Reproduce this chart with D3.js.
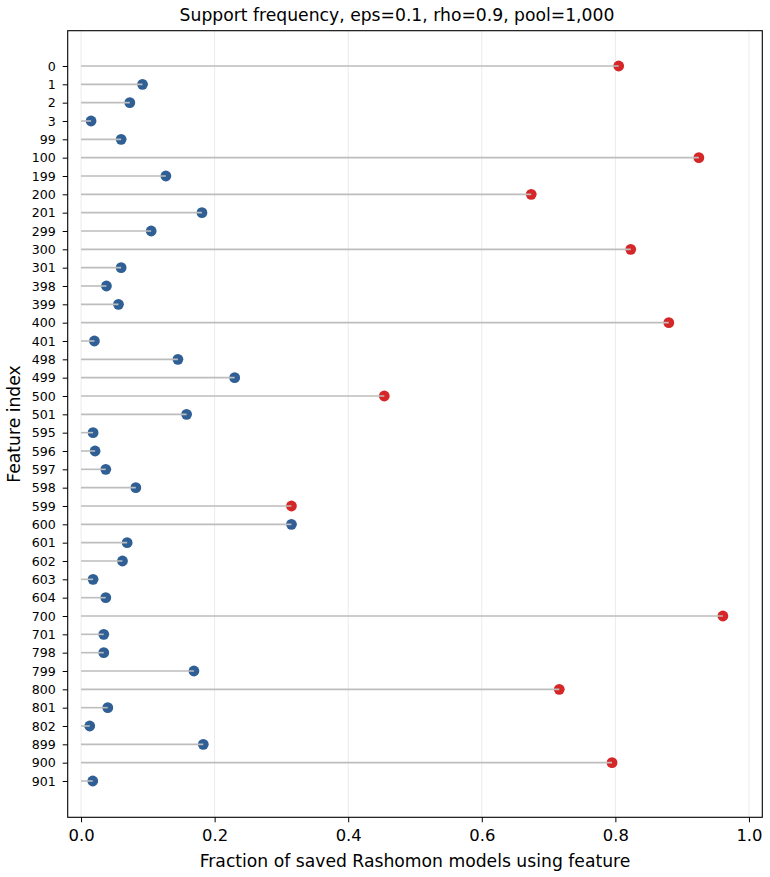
<!DOCTYPE html>
<html>
<head>
<meta charset="utf-8">
<script src="https://cdn.jsdelivr.net/npm/d3@7"></script>
<style>
  body { margin: 0; background: #fff; }
  text { font-family: "DejaVu Sans", sans-serif; fill: #000; }
</style>
</head>
<body>
<div class="canvas"></div>
<script>
// feature ids in plot order, top to bottom
const features = ["0","1","2","3","99","100","199","200","201","299","300","301","398","399","400","401",
  "498","499","500","501","595","596","597","598","599","600","601","602","603","604",
  "700","701","798","799","800","801","802","899","900","901"];
const support = [0.805,0.092,0.073,0.015,0.060,0.925,0.127,0.674,0.181,0.105,0.823,0.060,0.038,0.056,0.880,0.020,
  0.145,0.230,0.454,0.158,0.018,0.021,0.037,0.082,0.315,0.315,0.069,0.062,0.018,0.037,
  0.961,0.034,0.034,0.169,0.716,0.040,0.013,0.183,0.795,0.0175];
// true support features are highlighted
const trueSupport = ["0","100","200","300","400","500","599","700","800","900"];
const xTicks = [0, 0.2, 0.4, 0.6, 0.8, 1.0];

const dims = {width: 770, height: 877};
const margin = {left: 67.7, top: 30.7, right: 7.7, bottom: 59.7};
const w = dims.width - margin.left - margin.right;
const h = dims.height - margin.top - margin.bottom;

const svg = d3.select(".canvas").append("svg")
  .attr("width", dims.width)
  .attr("height", dims.height);

const graph = svg.append("g").attr("transform", `translate(${margin.left}, ${margin.top})`);

const x = d3.scaleLinear().domain([-0.02, 1.02]).range([0, w]);
const y = d3.scaleLinear().domain([-1.925, 40.98]).range([0, h]);

const data = features.map((f, i) => ({name: f, i: i, v: support[i], hit: trueSupport.includes(f)}));

// vertical grid
graph.selectAll("line.grid").data(xTicks).enter().append("line")
  .attr("class", "grid")
  .attr("x1", d => x(d)).attr("x2", d => x(d))
  .attr("y1", 0).attr("y2", h)
  .attr("stroke", "#ebebeb").attr("stroke-width", 1);

// dots first, stems over them (as in the reference)
graph.selectAll("circle").data(data).enter().append("circle")
  .attr("cx", d => x(d.v))
  .attr("cy", d => y(d.i))
  .attr("r", 5.4)
  .attr("fill", d => d.hit ? "#d62728" : "#2f5f95");

graph.selectAll("line.stem").data(data).enter().append("line")
  .attr("class", "stem")
  .attr("x1", x(0)).attr("x2", d => x(d.v))
  .attr("y1", d => y(d.i)).attr("y2", d => y(d.i))
  .attr("stroke", "#bdbdbd").attr("stroke-width", 1.6);

// axes
const xAxis = d3.axisBottom(x).tickValues(xTicks).tickFormat(d3.format(".1f")).tickSize(5).tickPadding(7);
const yAxis = d3.axisLeft(y).tickValues(d3.range(features.length)).tickFormat(i => features[i]).tickSize(5).tickPadding(7);

const gx = graph.append("g").attr("transform", `translate(0, ${h})`).call(xAxis);
gx.select(".domain").remove();
gx.selectAll("text").style("font-size", "16.4px").attr("fill", "#000");
gx.selectAll("line").attr("stroke", "#000").attr("stroke-width", 1);

const gy = graph.append("g").call(yAxis);
gy.select(".domain").remove();
gy.selectAll("text").style("font-size", "12.6px").attr("fill", "#000");
gy.selectAll("line").attr("stroke", "#000").attr("stroke-width", 1);

// frame
graph.append("rect")
  .attr("x", 0).attr("y", 0).attr("width", w).attr("height", h)
  .attr("fill", "none").attr("stroke", "#000").attr("stroke-width", 1.1);

// labels
svg.append("text")
  .attr("x", 397).attr("y", 21)
  .attr("text-anchor", "middle")
  .style("font-size", "17.2px")
  .text("Support frequency, eps=0.1, rho=0.9, pool=1,000");

svg.append("text")
  .attr("x", margin.left + w / 2).attr("y", 867)
  .attr("text-anchor", "middle")
  .style("font-size", "17.2px")
  .text("Fraction of saved Rashomon models using feature");

svg.append("text")
  .attr("transform", `translate(20, ${margin.top + h / 2}) rotate(-90)`)
  .attr("text-anchor", "middle")
  .style("font-size", "17.2px")
  .text("Feature index");
</script>
</body>
</html>
